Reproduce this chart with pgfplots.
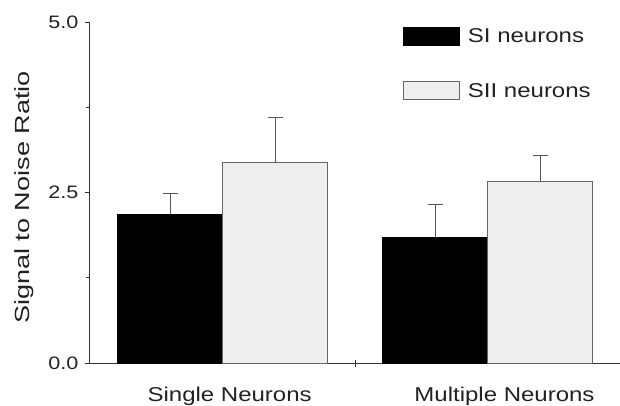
\documentclass[border=0pt]{standalone}
\usepackage{fontspec}
\setmainfont{Liberation Sans}[FakeStretch=1.2]
\newfontfamily\ylabfont{Liberation Sans}[FakeStretch=1.32]
\usepackage{pgfplots}
\pgfplotsset{compat=1.18}
\definecolor{siifill}{HTML}{EEEEEE}
\definecolor{axisgray}{HTML}{333333}
\definecolor{errgray}{HTML}{555555}
\definecolor{txt}{HTML}{222222}
\begin{document}
\begin{tikzpicture}
\begin{axis}[
  scale only axis, width=530pt, height=341.3pt,
  xmin=-0.5, xmax=1.5, ymin=0, ymax=5,
  ybar=0pt, bar width=105pt,
  axis x line=bottom, axis y line=left,
  axis line style={-, axisgray, line width=1pt},
  ytick={0,2.5,5}, minor ytick={1.25,3.75},
  /pgf/number format/assume math mode=true,
  yticklabel style={/pgf/number format/.cd, fixed, fixed zerofill, precision=1, /tikz/.cd,
    font=\fontsize{18}{20}\selectfont, text=txt, xshift=-3pt},
  tick align=outside, major tick length=5pt, minor tick length=3.5pt,
  ytick style={axisgray, line width=1pt},
  minor tick style={axisgray, line width=1pt},
  xtick={0.027,1.064}, xticklabels={Single Neurons, Multiple Neurons},
  xtick style={draw=none},
  xticklabel style={font=\fontsize{20}{24}\selectfont, text=txt, yshift=-15pt},
  extra x ticks={0.5}, extra x tick labels={},
  extra x tick style={tick align=center, major tick length=7pt, xtick style={draw=axisgray, line width=1pt}},
  ylabel={\ylabfont\fontsize{20.5}{24}\selectfont Signal to Noise Ratio},
  ylabel style={text=txt, at={(axis description cs:-0.125,0.486)}, anchor=center},
  legend style={draw=none, fill=none, at={(axis cs:0.681,4.93)}, anchor=north west,
    inner sep=0pt, row sep=36pt, font=\fontsize{20}{24}\selectfont,
    nodes={inner xsep=8pt, inner ysep=0pt, anchor=west, text=txt}},
  legend cell align=left,
  legend image code/.code={\draw[#1] (0pt,-9pt) rectangle (56pt,9pt);},
]
\addplot[fill=black, draw=black,
  error bars/.cd, y dir=plus, y explicit,
  error bar style={errgray, line width=1pt},
  error mark options={errgray, mark size=7.5pt, line width=1pt, rotate=90}]
  coordinates {(0,2.18) +- (0,0.31) (1,1.85) +- (0,0.48)};
\addplot[fill=siifill, draw=black!60, line width=0.8pt,
  error bars/.cd, y dir=plus, y explicit,
  error bar style={errgray, line width=1pt},
  error mark options={errgray, mark size=7.5pt, line width=1pt, rotate=90}]
  coordinates {(0,2.94) +- (0,0.66) (1,2.67) +- (0,0.38)};
\legend{SI neurons, SII neurons}
\end{axis}
\pgfresetboundingbox
\path[use as bounding box] (-90pt,-41.7pt) rectangle (530pt,363.3pt);
\end{tikzpicture}
\end{document}
